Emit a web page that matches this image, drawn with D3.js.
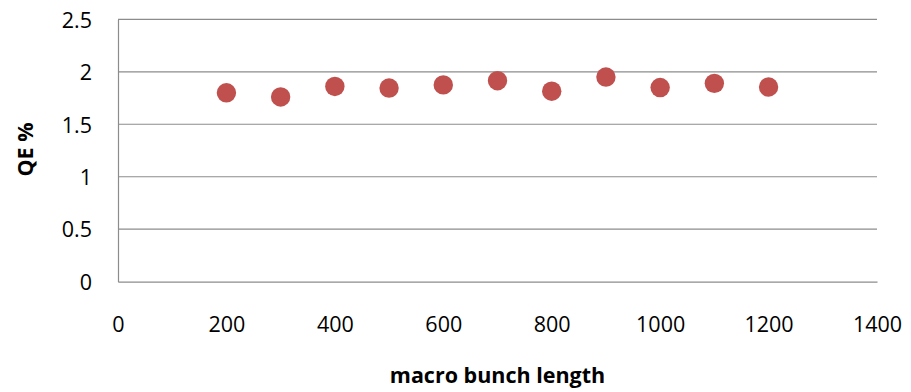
<!DOCTYPE html>
<html><head><meta charset="utf-8">
<script src="https://cdn.jsdelivr.net/npm/d3@7"></script>
<style>body{margin:0;background:#fff}svg{display:block}</style>
</head><body><svg id="c" width="911" height="392"></svg>
<script>
const xValues = [200, 300, 400, 500, 600, 700, 800, 900, 1000, 1100, 1200];
const qeValues = [1.80, 1.76, 1.86, 1.845, 1.875, 1.915, 1.815, 1.95, 1.85, 1.89, 1.855];
const xTicks = [0, 200, 400, 600, 800, 1000, 1200, 1400];
const yTicks = [0, 0.5, 1, 1.5, 2, 2.5];
const xTitle = "macro bunch length";
const yTitle = "QE %";

const svg = d3.select("#c");
const L = 118, R = 877, T = 19.3, B = 281.7;
const x = d3.scaleLinear().domain([0, 1400]).range([L, R]);
const y = d3.scaleLinear().domain([0, 2.5]).range([B, T]);
const font = "'Open Sans', 'Liberation Sans', sans-serif";
const fs = 21.5;

// gridlines
svg.append("g").selectAll("line").data(yTicks.filter(d => d > 0)).join("line")
  .attr("x1", L).attr("x2", R).attr("y1", d => y(d)).attr("y2", d => y(d))
  .attr("stroke", "#8c8c8c").attr("stroke-width", 1.2);

// axes
const yAxis = svg.append("g").attr("transform", `translate(${L},0)`)
  .call(d3.axisLeft(y).tickValues(yTicks).tickSize(0).tickPadding(26).tickFormat(d3.format("")));
const xAxis = svg.append("g").attr("transform", `translate(0,${B})`)
  .call(d3.axisBottom(x).tickValues(xTicks).tickSize(0).tickFormat(d3.format("")));
[yAxis, xAxis].forEach(g => {
  g.select(".domain").attr("stroke", "#8c8c8c").attr("stroke-width", 1.2);
  g.selectAll("text").attr("font-family", font).attr("font-size", fs).attr("fill", "#000");
});
yAxis.selectAll("text").attr("dy", "0.36em");
xAxis.selectAll("text").attr("y", 50.5).attr("dy", 0);

// points
svg.append("g").selectAll("circle").data(xValues.map((v, i) => [v, qeValues[i]])).join("circle")
  .attr("cx", d => x(d[0])).attr("cy", d => y(d[1])).attr("r", 9.7)
  .attr("fill", "#c0504d");

// titles
svg.append("text").attr("x", 497.5).attr("y", 383).attr("text-anchor", "middle")
  .attr("font-family", font).attr("font-weight", "bold").attr("font-size", fs).text(xTitle);
svg.append("text").attr("transform", "translate(32.5,149.5) rotate(-90)").attr("text-anchor", "middle")
  .attr("font-family", font).attr("font-weight", "bold").attr("font-size", fs).text(yTitle);
</script></body></html>
